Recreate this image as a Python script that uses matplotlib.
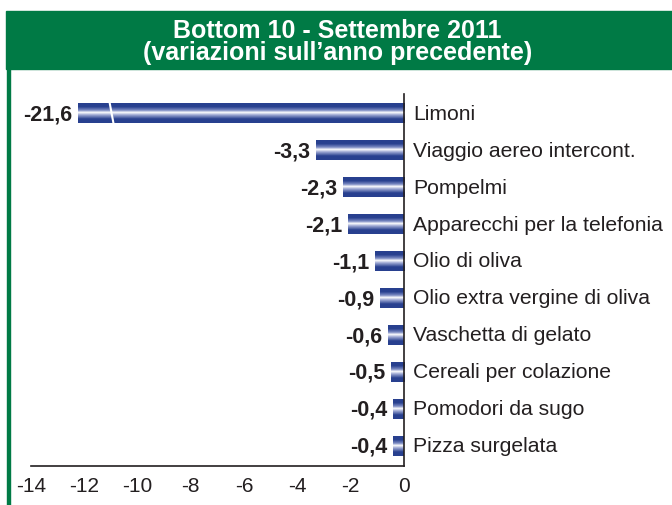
import matplotlib.pyplot as plt
import numpy as np
from matplotlib.colors import LinearSegmentedColormap
from matplotlib.patches import Rectangle

plt.rcParams["font.family"] = ["Liberation Sans", "DejaVu Sans"]

TITLE = "Bottom 10 - Settembre 2011\n(variazioni sull\u2019anno precedente)"

categories = [
    "Limoni",
    "Viaggio aereo intercont.",
    "Pompelmi",
    "Apparecchi per la telefonia",
    "Olio di oliva",
    "Olio extra vergine di oliva",
    "Vaschetta di gelato",
    "Cereali per colazione",
    "Pomodori da sugo",
    "Pizza surgelata",
]
values = [-21.6, -3.3, -2.3, -2.1, -1.1, -0.9, -0.6, -0.5, -0.4, -0.4]
xticks = [-14, -12, -10, -8, -6, -4, -2, 0]

GREEN = "#007a45"
BLUE = "#28408f"
TEXT = "#231f20"

# bars longer than this are drawn broken
CAP = -12.25
BREAK_AT = -11.0

bar_cmap = LinearSegmentedColormap.from_list(
    "bar",
    [(0, BLUE), (0.18, BLUE), (0.36, "#7d8cc4"), (0.47, "#ffffff"),
     (0.6, "#9aa5d2"), (0.8, BLUE), (1, BLUE)],
)
grad = np.linspace(0, 1, 64).reshape(-1, 1)

fig = plt.figure(figsize=(6.72, 5.06), dpi=100)

# header band and left border
fig.patches.append(Rectangle((6 / 672, 1 - 70 / 506), 1, 58 / 506,
                             transform=fig.transFigure, color=GREEN, zorder=0))
fig.patches.append(Rectangle((7 / 672, 0), 2.5 / 672, 1 - 70 / 506,
                             transform=fig.transFigure, color=GREEN, zorder=0))
fig.text(0.502, 1 - 42 / 506, TITLE, ha="center", va="center", color="white",
         fontsize=18, fontweight="bold", linespacing=0.88)

ax = fig.add_axes([31 / 672, 39 / 506, 373 / 672, 372 / 506])
ax.set_xlim(-14, 0)
ax.set_ylim(9.55, -0.52)

y = np.arange(len(categories))
shown = [max(v, CAP) for v in values]
bars = ax.barh(y, shown, height=0.54, color="none", edgecolor="none")

for bar, v, name in zip(bars, values, categories):
    x0, y0, w, h = bar.get_x(), bar.get_y(), bar.get_width(), bar.get_height()
    im = ax.imshow(grad, cmap=bar_cmap, aspect="auto",
                   extent=(x0 + w, x0, y0 + h, y0), zorder=2)
    im.set_clip_path(bar)
    left = min(x0, x0 + w)
    ax.annotate(f"{v:.1f}".replace(".", ","), (left, y0 + h / 2),
                xytext=(-4, -0.5), textcoords="offset points", ha="right",
                va="center", fontsize=15.5, fontweight="bold", color=TEXT)
    ax.annotate(name, (0, y0 + h / 2), xytext=(6.5, 0), textcoords="offset points",
                ha="left", va="center", fontsize=15.2, color=TEXT,
                annotation_clip=False)
    if v < CAP:
        ax.plot([BREAK_AT - 0.05, BREAK_AT + 0.1], [y0 - 0.02, y0 + h + 0.02],
                color="white", lw=1.5, zorder=3)

ax.set_xticks(xticks)
ax.set_xticklabels([str(t) for t in xticks])
ax.set_yticks([])
ax.tick_params(axis="x", length=0, labelsize=15, pad=7, colors=TEXT)
for side in ("left", "top"):
    ax.spines[side].set_visible(False)
for side in ("right", "bottom"):
    ax.spines[side].set_color(TEXT)
    ax.spines[side].set_linewidth(1.2)

fig.savefig("out.png", dpi=100)
